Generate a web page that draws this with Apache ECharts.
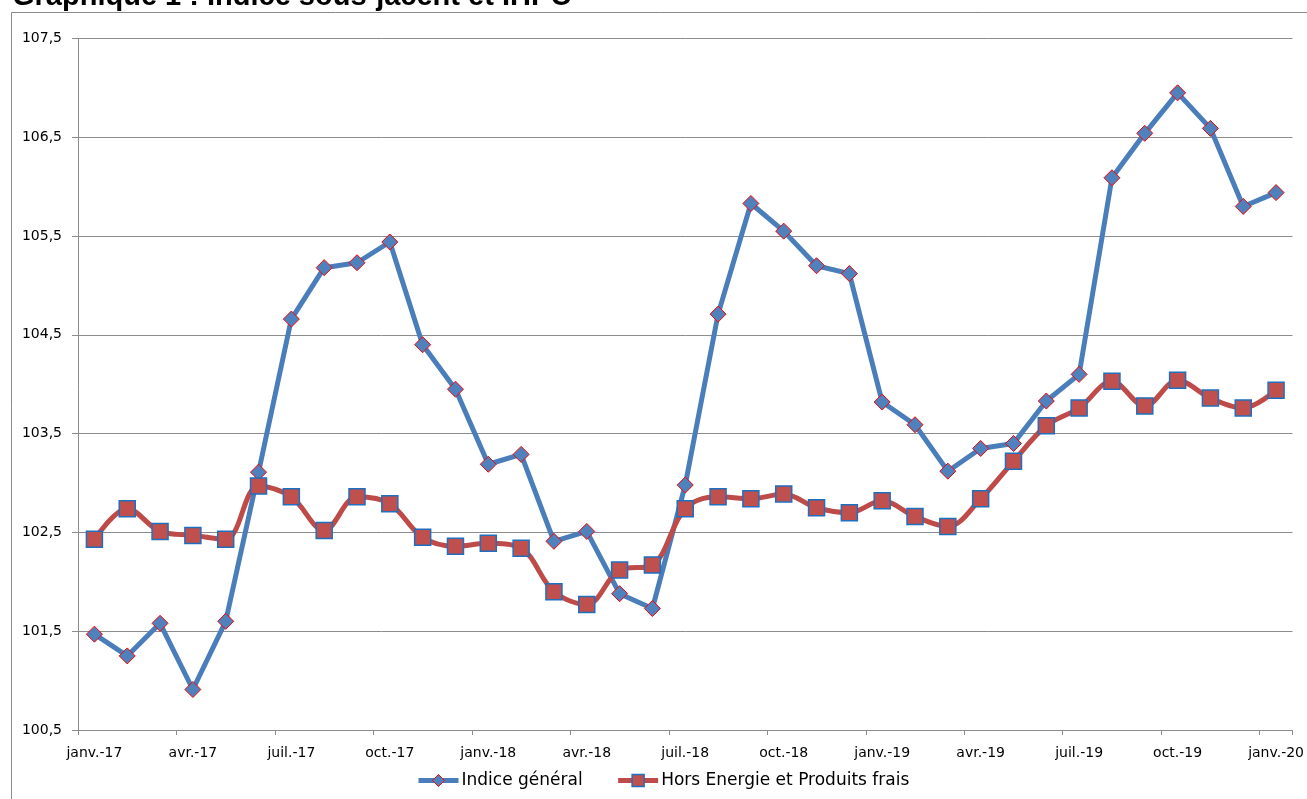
<!DOCTYPE html>
<html>
<head>
<meta charset="utf-8">
<script src="https://cdn.jsdelivr.net/npm/echarts@6/dist/echarts.min.js"></script>
<style>
html,body{margin:0;padding:0;background:#fff;}
#chart{width:1307px;height:799px;}
</style>
</head>
<body>
<div id="chart"></div>
<script>
const categories = [
  'janv.-17','févr.-17','mars-17','avr.-17','mai-17','juin-17','juil.-17','août-17','sept.-17','oct.-17','nov.-17','déc.-17',
  'janv.-18','févr.-18','mars-18','avr.-18','mai-18','juin-18','juil.-18','août-18','sept.-18','oct.-18','nov.-18','déc.-18',
  'janv.-19','févr.-19','mars-19','avr.-19','mai-19','juin-19','juil.-19','août-19','sept.-19','oct.-19','nov.-19','déc.-19',
  'janv.-20'
];
const indiceGeneral = [
  101.47, 101.25, 101.58, 100.91, 101.60, 103.11, 104.66, 105.18, 105.23, 105.44, 104.40, 103.95,
  103.19, 103.29, 102.41, 102.51, 101.88, 101.73, 102.98, 104.71, 105.83, 105.55, 105.20, 105.12,
  103.82, 103.59, 103.12, 103.35, 103.40, 103.83, 104.10, 106.09, 106.54, 106.95, 106.59, 105.80,
  105.94
];
const horsEnergie = [
  102.43, 102.74, 102.51, 102.47, 102.43, 102.97, 102.86, 102.52, 102.86, 102.79, 102.45, 102.36,
  102.39, 102.34, 101.90, 101.77, 102.12, 102.17, 102.74, 102.86, 102.84, 102.89, 102.75, 102.70,
  102.82, 102.66, 102.56, 102.84, 103.22, 103.58, 103.76, 104.03, 103.78, 104.04, 103.86, 103.76,
  103.94
];
const seriesNames = ['Indice général', 'Hors Energie et Produits frais'];
const titleText = 'Graphique 1 : Indice sous-jacent et IHPC';
const yMin = 100.5, yMax = 107.5, yStep = 1;

const chart = echarts.init(document.getElementById('chart'));
const axisFont = 'DejaVu Sans';
chart.setOption({
  animation: false,
  backgroundColor: '#fff',
  graphic: [
    { type: 'rect', silent: true, z: -1,
      shape: { x: 11.5, y: 12.5, width: 1400, height: 900 },
      style: { fill: 'none', stroke: '#8a8a8a', lineWidth: 1 } },
    { type: 'text', silent: true,
      style: { text: titleText, x: 12, y: -3, fill: '#000',
               font: 'bold 29px "Liberation Sans", Arial, sans-serif',
               verticalAlign: 'middle', align: 'left' } }
  ],
  grid: { left: 78, right: 14.5, top: 38.5, bottom: 69, containLabel: false },
  legend: {
    left: 416, top: 772, padding: 0,
    itemWidth: 40, itemHeight: 15, itemGap: 33,
    lineStyle: { width: 5 },
    textStyle: { fontFamily: axisFont, fontSize: 17, color: '#000', padding: [0, 0, 0, -2] },
    data: [
      { name: seriesNames[0], itemStyle: { color: '#4F81BD', borderColor: '#FF0000', borderWidth: 1 } },
      { name: seriesNames[1], itemStyle: { color: '#C0504D', borderColor: '#1F6FC0', borderWidth: 1.5 } }
    ]
  },
  xAxis: {
    type: 'category',
    data: categories,
    boundaryGap: true,
    axisLine: { lineStyle: { color: '#8c8c8c', width: 1 } },
    axisTick: { show: true, interval: 2, length: 5, lineStyle: { color: '#8c8c8c' } },
    axisLabel: { interval: 2, margin: 16, color: '#000', fontFamily: axisFont, fontSize: 14 },
    splitLine: { show: false }
  },
  yAxis: {
    type: 'value',
    min: yMin, max: yMax, interval: yStep,
    axisLine: { show: true, lineStyle: { color: '#8c8c8c', width: 1 } },
    axisTick: { show: true, length: 6, lineStyle: { color: '#8c8c8c' } },
    axisLabel: { margin: 16, color: '#000', fontFamily: axisFont, fontSize: 14,
                 formatter: v => v.toFixed(1).replace('.', ',') },
    splitLine: { show: true, lineStyle: { color: '#8c8c8c', width: 1 } }
  },
  series: [
    {
      name: seriesNames[0], type: 'line', data: indiceGeneral,
      symbol: 'diamond', symbolSize: 16, showAllSymbol: true,
      lineStyle: { color: '#4A7EBB', width: 5 },
      itemStyle: { color: '#4F81BD', borderColor: '#FF0000', borderWidth: 1 },
      z: 2
    },
    {
      name: seriesNames[1], type: 'line', data: horsEnergie, smooth: 0.35,
      symbol: 'rect', symbolSize: 16, showAllSymbol: true,
      lineStyle: { color: '#BE4B48', width: 5 },
      itemStyle: { color: '#C0504D', borderColor: '#1F6FC0', borderWidth: 1.5 },
      z: 3
    }
  ]
});
</script>
</body>
</html>
